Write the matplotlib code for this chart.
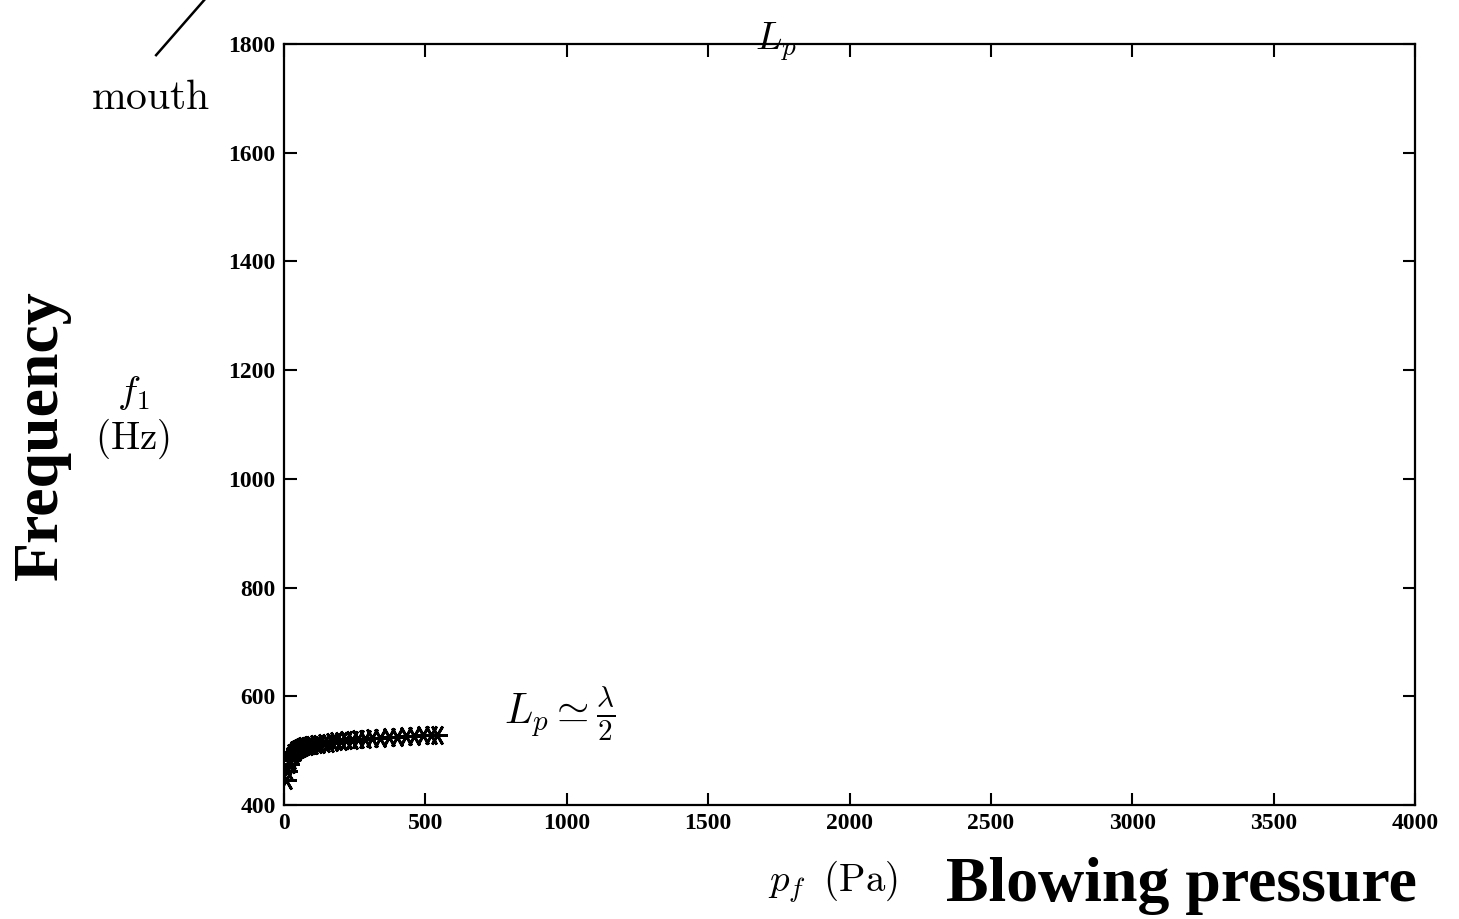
import numpy as np
import matplotlib.pyplot as plt

plt.rcParams['font.family'] = 'Liberation Serif'
plt.rcParams['mathtext.fontset'] = 'cm'

# blowing pressure (Pa) and frequency (Hz)
pf = [8, 12, 18, 22, 28, 32, 38, 42, 48, 55, 62, 70, 80, 90, 100, 112, 125, 140,
      155, 170, 185, 200, 220, 240, 260, 285, 310, 340, 370, 400, 430, 460, 490, 520, 540]
f1 = [446, 462, 475, 483, 490, 495, 498, 501, 503, 505, 507, 508, 509, 510, 511, 512, 513, 514,
      515, 516, 517, 518, 519, 520, 521, 522, 523, 524, 525, 526, 527, 527, 528, 528, 529]

xticks = [0, 500, 1000, 1500, 2000, 2500, 3000, 3500, 4000]
yticks = [400, 600, 800, 1000, 1200, 1400, 1600, 1800]

fig = plt.figure(figsize=(14.59, 9.19), dpi=100)
ax = fig.add_axes([0.1947, 0.124, 0.7751, 0.8281])

ax.plot(pf, f1, linestyle='none', marker=(6, 2, 90), markersize=15, color='black', markeredgewidth=2.0)

ax.set_xlim(0, 4000)
ax.set_ylim(400, 1800)
ax.set_xticks(xticks)
ax.set_yticks(yticks)
ax.tick_params(direction='in', length=9, width=1.5, top=True, right=True, labelsize=17, pad=6)
for lab in ax.get_xticklabels() + ax.get_yticklabels():
    lab.set_fontweight('bold')
for s in ax.spines.values():
    s.set_linewidth(1.6)

fig.text(0.091, 0.572, '$f_1$', fontsize=28, ha='center', va='center')
fig.text(0.091, 0.523, r'$\mathrm{(Hz)}$', fontsize=28, ha='center', va='center')
fig.text(0.571, 0.041, r'$p_f\;\;\mathrm{(Pa)}$', fontsize=28, ha='center', va='center')
fig.text(0.029, 0.527, 'Frequency', fontsize=46, fontweight='bold', rotation=90, ha='center', va='center')
fig.text(0.81, 0.036, 'Blowing pressure', fontsize=46, fontweight='bold', ha='center', va='center')
fig.text(0.103, 0.893, r'$\mathrm{mouth}$', fontsize=30, ha='center', va='center')
fig.add_artist(plt.Line2D([0.107, 0.14], [0.94, 1.0], color='black', lw=1.8))
fig.text(0.532, 0.955, '$L_p$', fontsize=28, ha='center', va='center')
ax.text(976, 567, r'$L_p \simeq \frac{\lambda}{2}$', fontsize=30, ha='center', va='center')

fig.savefig('out.png', dpi=100)
